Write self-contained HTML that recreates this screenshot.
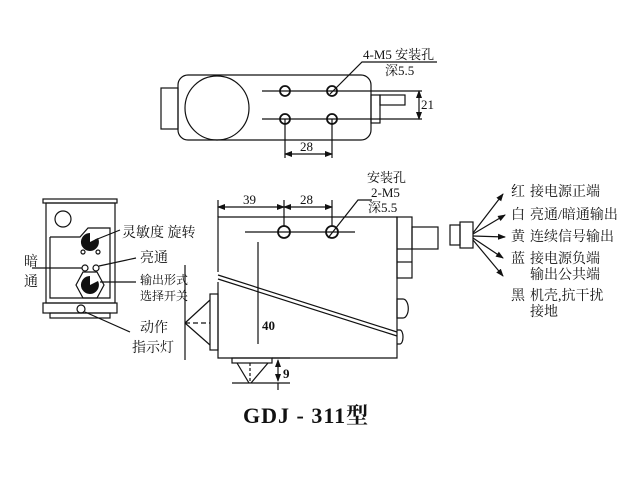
<!DOCTYPE html>
<html><head><meta charset="utf-8"><style>
body{margin:0;background:#fff}
svg{display:block}
text{font-family:"Liberation Serif","Noto Serif CJK SC",serif;fill:#111}
</style></head><body>
<svg width="640" height="480" viewBox="0 0 640 480" xmlns="http://www.w3.org/2000/svg" font-size="13">
<defs><marker id="a" markerWidth="8" markerHeight="8" refX="7" refY="4" orient="auto-start-reverse" markerUnits="userSpaceOnUse"><path d="M0,1 L8,4 L0,7z" fill="#111"/></marker></defs>
<g fill="none" stroke="#111" stroke-width="1.2">
<rect x="178" y="75" width="193" height="65" rx="10"/>
<rect x="161" y="88" width="17" height="41"/>
<circle cx="217" cy="108" r="32"/>
<line x1="262" y1="91" x2="422" y2="91"/><line x1="262" y1="119" x2="422" y2="119"/>
<g stroke-width="1.8"><circle cx="285" cy="91" r="5"/><circle cx="332" cy="91" r="5"/><circle cx="285" cy="119" r="5"/><circle cx="332" cy="119" r="5"/></g>
<rect x="371" y="95" width="9" height="28"/><rect x="380" y="95" width="25" height="10"/>
<line x1="419" y1="91" x2="419" y2="119" marker-start="url(#a)" marker-end="url(#a)"/>
<line x1="285" y1="119" x2="285" y2="158"/><line x1="332" y1="119" x2="332" y2="158"/>
<line x1="285" y1="154" x2="332" y2="154" marker-start="url(#a)" marker-end="url(#a)"/>
<polyline points="330,94 362,62 437,62"/>
<polyline points="218,272 218,217 397,217 397,358 218,358 218,282"/>
<line x1="218" y1="275" x2="397" y2="332"/><line x1="218" y1="279" x2="397" y2="336"/>
<line x1="245" y1="232" x2="355" y2="232"/>
<g stroke-width="1.8"><circle cx="284" cy="232" r="6"/><circle cx="332" cy="232" r="6"/></g>
<line x1="258" y1="242" x2="258" y2="344"/>
<line x1="218" y1="200" x2="218" y2="217"/><line x1="284" y1="200" x2="284" y2="226"/><line x1="332" y1="200" x2="332" y2="226"/>
<line x1="218" y1="207" x2="284" y2="207" marker-start="url(#a)" marker-end="url(#a)"/>
<line x1="284" y1="207" x2="332" y2="207" marker-start="url(#a)" marker-end="url(#a)"/>
<polyline points="328,238 358,200 372,200"/>
<rect x="397" y="217" width="15" height="61"/><line x1="397" y1="249" x2="412" y2="249"/><line x1="397" y1="262" x2="412" y2="262"/>
<rect x="412" y="227" width="26" height="22"/>
<path d="M397,299 h6 a5,9 0 0 1 0,19 h-6z"/><path d="M397,330 h3 a3,7 0 0 1 0,14 h-3"/>
<rect x="210" y="294" width="8" height="56"/>
<line x1="210" y1="300" x2="185" y2="323"/><line x1="210" y1="345" x2="185" y2="323"/>
<line x1="185" y1="323" x2="210" y2="323" stroke-dasharray="5,3"/>
<line x1="185" y1="265" x2="185" y2="360"/>
<rect x="232" y="358" width="40" height="5"/>
<line x1="237" y1="363" x2="249" y2="383"/><line x1="268" y1="363" x2="251" y2="383"/>
<line x1="250" y1="363" x2="250" y2="383" stroke-dasharray="3,2"/>
<line x1="232" y1="383" x2="290" y2="383"/><line x1="272" y1="358" x2="290" y2="358"/>
<line x1="278" y1="360" x2="278" y2="381" marker-start="url(#a)" marker-end="url(#a)"/>
<line x1="278" y1="383" x2="278" y2="390"/>
<rect x="43" y="199" width="74" height="4"/>
<rect x="46" y="203" width="69" height="100"/>
<circle cx="63" cy="219" r="8"/>
<polyline points="50,237 80,237 88,228 110,228 110,298 50,298 50,237"/>
<polygon points="76,285 83,272 97,272 104,285 97,298 83,298"/>
<circle cx="83" cy="252" r="2"/><circle cx="98" cy="252" r="2"/>
<circle cx="85" cy="268" r="3"/><circle cx="96" cy="268" r="3"/>
<rect x="43" y="303" width="74" height="10"/><rect x="50" y="313" width="60" height="5"/>
<circle cx="81" cy="309" r="4"/>
<line x1="95" y1="240" x2="120" y2="230"/><line x1="99" y1="266" x2="136" y2="258"/>
<line x1="32" y1="268" x2="82" y2="268"/><line x1="100" y1="282" x2="136" y2="282"/>
<line x1="85" y1="312" x2="130" y2="332"/>
<rect x="450" y="225" width="10" height="20"/><rect x="460" y="222" width="13" height="26"/>
<g marker-end="url(#a)"><line x1="473" y1="233" x2="503" y2="194"/><line x1="473" y1="234" x2="505" y2="215"/><line x1="473" y1="236" x2="505" y2="237"/><line x1="473" y1="238" x2="503" y2="258"/><line x1="473" y1="240" x2="503" y2="276"/></g>
</g>
<g fill="#111">
<path d="M90,233 a9,9 0 1 0 8,5 l-8,4z"/>
<path d="M90,276 a9,9 0 1 0 8,5 l-8,4z"/>
</g>
<text x="363" y="59">4-M5 安装孔</text><text x="385" y="75">深5.5</text>
<text x="421" y="109">21</text><text x="300" y="151">28</text>
<text x="243" y="204">39</text><text x="300" y="204">28</text>
<text x="367" y="182">安装孔</text><text x="371" y="197">2-M5</text><text x="368" y="212">深5.5</text>
<text x="262" y="330" font-weight="bold">40</text><text x="283" y="378" font-weight="bold">9</text>
<g font-size="14">
<text x="122" y="237">灵敏度 旋转</text><text x="140" y="262">亮通</text>
<text x="24" y="266">暗</text><text x="24" y="286">通</text>
<text x="140" y="332">动作</text><text x="132" y="352">指示灯</text>
</g>
<text x="140" y="284" font-size="12">输出形式</text><text x="140" y="300" font-size="12">选择开关</text>
<g font-size="14">
<text x="511" y="196">红</text><text x="530" y="196">接电源正端</text>
<text x="511" y="219">白</text><text x="530" y="219">亮通/暗通输出</text>
<text x="511" y="241">黄</text><text x="530" y="241">连续信号输出</text>
<text x="511" y="263">蓝</text><text x="530" y="263">接电源负端</text>
<text x="530" y="279">输出公共端</text>
<text x="511" y="300">黑</text><text x="530" y="300">机壳,抗干扰</text>
<text x="530" y="316">接地</text>
</g>
<text x="243" y="423" font-size="22" font-weight="bold" letter-spacing="1">GDJ - 311型</text>
</svg>
</body></html>
